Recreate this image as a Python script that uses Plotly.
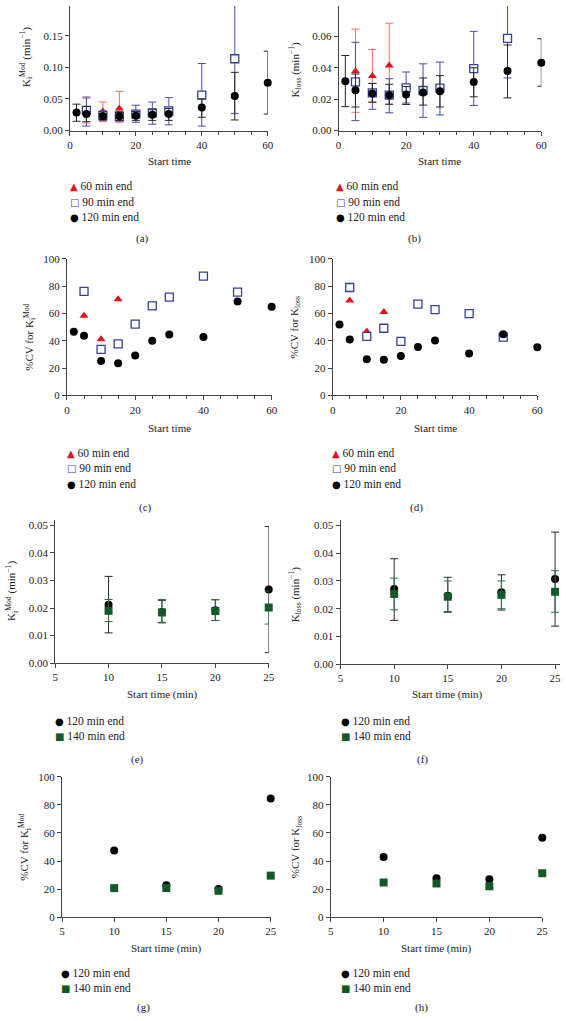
import plotly.graph_objects as go

W, H = 566, 1021
SERIF = "Liberation Serif, Times New Roman, serif"

# ---------------- data ----------------
# (a) K_i^Mod (min^-1) vs start time
a_x60 = [5, 10, 15]
a_y60 = [0.031, 0.030, 0.035]
a_hi60 = [0.051, 0.045, 0.062]
a_lo60 = [0.012, 0.014, 0.013]

a_x90 = [5, 10, 15, 20, 25, 30, 40, 50]
a_y90 = [0.032, 0.024, 0.022, 0.026, 0.028, 0.031, 0.056, 0.1135]
a_hi90 = [0.053, 0.031, 0.030, 0.040, 0.045, 0.052, 0.106, 0.215]
a_lo90 = [0.007, 0.016, 0.015, 0.013, 0.010, 0.009, 0.007, 0.027]

a_x120 = [2, 5, 10, 15, 20, 25, 30, 40, 50, 60]
a_y120 = [0.0285, 0.026, 0.023, 0.0224, 0.0234, 0.025, 0.026, 0.0365, 0.0547, 0.0755]
a_hi120 = [0.0417, 0.038, 0.027, 0.029, 0.030, 0.033, 0.035, 0.050, 0.092, 0.1255]
a_lo120 = [0.0146, 0.014, 0.017, 0.016, 0.016, 0.016, 0.016, 0.021, 0.0167, 0.026]

# (b) K_loss (min^-1) vs start time
b_x60 = [5, 10, 15]
b_y60 = [0.0377, 0.0347, 0.0415]
b_hi60 = [0.0646, 0.0516, 0.0684]
b_lo60 = [0.0116, 0.0183, 0.0166]

b_x90 = [5, 10, 15, 20, 25, 30, 40, 50]
b_y90 = [0.031, 0.024, 0.0225, 0.0272, 0.0255, 0.027, 0.0394, 0.0587]
b_hi90 = [0.0562, 0.030, 0.033, 0.0373, 0.0425, 0.0436, 0.0632, 0.085]
b_lo90 = [0.0063, 0.0135, 0.0113, 0.0175, 0.0084, 0.0099, 0.016, 0.0335]

b_x120 = [2, 5, 10, 15, 20, 25, 30, 40, 50, 60]
b_y120 = [0.0314, 0.0257, 0.0236, 0.0225, 0.023, 0.0242, 0.025, 0.031, 0.0379, 0.0432]
b_hi120 = [0.0478, 0.036, 0.030, 0.0295, 0.028, 0.0335, 0.035, 0.040, 0.0545, 0.0585]
b_lo120 = [0.0152, 0.015, 0.018, 0.0168, 0.0166, 0.0162, 0.015, 0.0215, 0.0208, 0.0282]

# (c) %CV for K_i^Mod
c_x60 = [5, 10, 15]
c_y60 = [58.4, 41.1, 70.4]
c_x90 = [5, 10, 15, 20, 25, 30, 40, 50]
c_y90 = [76.2, 33.7, 37.7, 52.2, 65.6, 72.1, 87.5, 75.7]
c_x120 = [2, 5, 10, 15, 20, 25, 30, 40, 50, 60]
c_y120 = [46.6, 43.8, 25.2, 23.6, 29.3, 40.1, 44.7, 42.8, 68.8, 64.9]

# (d) %CV for K_loss
d_x60 = [5, 10, 15]
d_y60 = [69.5, 46.8, 61.2]
d_x90 = [5, 10, 15, 20, 25, 30, 40, 50]
d_y90 = [79.1, 43.2, 49.2, 39.6, 66.9, 62.8, 60.0, 42.7]
d_x120 = [2, 5, 10, 15, 20, 25, 30, 40, 50, 60]
d_y120 = [52.0, 41.0, 26.4, 26.1, 28.8, 35.5, 40.3, 30.7, 44.8, 35.3]

# (e)-(h): start time (min)
t_x = [10, 15, 20, 25]

e_y120 = [0.0212, 0.0186, 0.0192, 0.0267]
e_hi120 = [0.0315, 0.0228, 0.0230, 0.0496]
e_lo120 = [0.0110, 0.0148, 0.0155, 0.0038]
e_y140 = [0.0190, 0.0184, 0.0189, 0.0202]
e_hi140 = [0.0231, 0.0231, 0.0231, 0.0262]
e_lo140 = [0.0151, 0.0146, 0.0155, 0.0142]

f_y120 = [0.0271, 0.0247, 0.0259, 0.0307]
f_hi120 = [0.0380, 0.0313, 0.0322, 0.0476]
f_lo120 = [0.0158, 0.0187, 0.0195, 0.0137]
f_y140 = [0.0253, 0.0243, 0.0250, 0.0261]
f_hi140 = [0.0310, 0.0300, 0.0300, 0.0337]
f_lo140 = [0.0196, 0.0190, 0.0200, 0.0187]

g_y120 = [47.5, 22.8, 20.0, 84.5]
g_y140 = [20.7, 20.7, 18.8, 29.6]

h_y120 = [42.8, 27.8, 27.1, 56.5]
h_y140 = [24.7, 24.0, 22.0, 31.3]

# ---------------- styles ----------------
RED = "rgb(225,20,30)"
RED_ERR = "rgb(240,110,110)"
BLUE = "rgb(55,65,150)"
BLUE_ERR = "rgb(70,80,160)"
BLACK = "rgb(0,0,0)"
BLACK_ERR = "rgb(40,40,40)"
GREEN = "rgb(20,90,40)"
GREEN_ERR = "rgb(45,115,65)"

M60 = dict(symbol="triangle-up", size=8, color=RED)
M90 = dict(symbol="square", size=8, color="white", line=dict(color=BLUE, width=1.3))
M120 = dict(symbol="circle", size=8, color=BLACK)
M140 = dict(symbol="square", size=8, color=GREEN)


def errs(y, hi, lo, color):
    return dict(type="data", symmetric=False,
                array=[h - v for h, v in zip(hi, y)],
                arrayminus=[v - l for v, l in zip(y, lo)],
                color=color, thickness=1, width=4)


fig = go.Figure()


def add(n, x, y, name, marker, err=None):
    kw = {}
    if err is not None:
        kw["error_y"] = err
    fig.add_trace(go.Scatter(
        x=x, y=y, name=name, mode="markers", marker=marker, cliponaxis=False,
        showlegend=False,
        xaxis="x" if n == 1 else f"x{n}", yaxis="y" if n == 1 else f"y{n}", **kw))


# (a)
add(1, a_x60, a_y60, "60 min end", M60, errs(a_y60, a_hi60, a_lo60, RED_ERR))
add(1, a_x90, a_y90, "90 min end", M90, errs(a_y90, a_hi90, a_lo90, BLUE_ERR))
add(1, a_x120, a_y120, "120 min end", M120, errs(a_y120, a_hi120, a_lo120, BLACK_ERR))
# (b)
add(2, b_x60, b_y60, "60 min end", M60, errs(b_y60, b_hi60, b_lo60, RED_ERR))
add(2, b_x90, b_y90, "90 min end", M90, errs(b_y90, b_hi90, b_lo90, BLUE_ERR))
add(2, b_x120, b_y120, "120 min end", M120, errs(b_y120, b_hi120, b_lo120, BLACK_ERR))
# (c)
add(3, c_x60, c_y60, "60 min end", M60)
add(3, c_x90, c_y90, "90 min end", M90)
add(3, c_x120, c_y120, "120 min end", M120)
# (d)
add(4, d_x60, d_y60, "60 min end", M60)
add(4, d_x90, d_y90, "90 min end", M90)
add(4, d_x120, d_y120, "120 min end", M120)
# (e)
add(5, t_x, e_y120, "120 min end", M120, errs(e_y120, e_hi120, e_lo120, BLACK_ERR))
add(5, t_x, e_y140, "140 min end", M140, errs(e_y140, e_hi140, e_lo140, GREEN_ERR))
# (f)
add(6, t_x, f_y120, "120 min end", M120, errs(f_y120, f_hi120, f_lo120, BLACK_ERR))
add(6, t_x, f_y140, "140 min end", M140, errs(f_y140, f_hi140, f_lo140, GREEN_ERR))
# (g)
add(7, t_x, g_y120, "120 min end", M120)
add(7, t_x, g_y140, "140 min end", M140)
# (h)
add(8, t_x, h_y120, "120 min end", M120)
add(8, t_x, h_y140, "140 min end", M140)


def dx(p0, p1):
    return [p0 / W, p1 / W]


def dy(top, bot):
    return [1 - bot / H, 1 - top / H]


AX = dict(showline=True, linecolor="#444", linewidth=1, ticks="outside", ticklen=4,
          tickcolor="#444", tickwidth=1, showgrid=False, zeroline=False,
          ticklabeloverflow="allow",
          tickfont=dict(family=SERIF, size=11, color="#222"), fixedrange=True)

# panel geometry: (x0px, x1px, ytop px, ybot px, xrange, yrange, ydtick, yfmt, xdtick, xminor)
panels = [
    (68, 269, -2, 126, [0, 60], [0, 0.2], 0.05, ".2f", 20, True),
    (341, 547, -1, 126, [0, 60], [0, 0.08], 0.02, ".2f", 20, True),
    (65, 273, 256, 394, [0, 60], [0, 100], 20, "d", 20, True),
    (335, 543, 256, 394, [0, 60], [0, 100], 20, "d", 20, True),
    (53, 270, 520, 665, [5, 25], [0, 0.052], 0.01, ".2f", 5, False),
    (343, 566, 520, 666, [5, 25.46], [0, 0.052], 0.01, ".2f", 5, False),
    (60, 272, 780, 922, [5, 25], [0, 100], 20, "d", 5, False),
    (333, 548, 780, 922, [5, 25], [0, 100], 20, "d", 5, False),
]

layout = dict(width=W, height=H, margin=dict(l=0, r=0, t=0, b=0),
              paper_bgcolor="white", plot_bgcolor="white", showlegend=False,
              font=dict(family=SERIF, size=11, color="#222"))

for i, (x0, x1, yt, yb, xr, yr, ydt, yfmt, xdt, xminor) in enumerate(panels, start=1):
    sx = "" if i == 1 else str(i)
    xa = dict(AX, domain=dx(x0, x1), range=xr, dtick=xdt, tick0=0 if xr[0] == 0 else 5,
              anchor="y" + sx)
    if xminor:
        xa["minor"] = dict(dtick=5, ticks="outside", ticklen=3, tickcolor="#444")
    ya = dict(AX, domain=[max(0.0, v) for v in [1 - yb / H, min(1.0, 1 - yt / H)]],
              range=yr, dtick=ydt, tick0=0, tickformat=yfmt, anchor="x" + sx)
    if yt < 0:
        # top of the panel lies just above the page edge: trim the range to the visible part
        frac = yb / (yb - yt)
        ya["range"] = [yr[0], yr[0] + (yr[1] - yr[0]) * frac]
        ya["domain"] = [1 - yb / H, 1.0]
    layout["xaxis" + sx] = xa
    layout["yaxis" + sx] = ya

fig.update_layout(**layout)

KI = "K<sub>i</sub><sup>Mod</sup>"
KL = "K<sub>loss</sub>"
MIN = " (min<sup>−1</sup>)"

ann = []


def text(s, xp, yp, angle=0, size=11, xanchor="center"):
    ann.append(dict(text=s, x=xp / W, y=1 - yp / H, xref="paper", yref="paper",
                    showarrow=False, textangle=angle, xanchor=xanchor, yanchor="middle",
                    font=dict(family=SERIF, size=size, color="#222")))


# y titles
text(KI + MIN, 24, 52, -90)
text(KL + MIN, 297, 64, -90)
text("%CV for " + KI, 27, 335, -90)
text("%CV for " + KL, 297, 325, -90)
text(KI + MIN, 9, 592, -90)
text(KL + MIN, 297, 595, -90)
text("%CV for " + KI, 22, 851, -90)
text("%CV for " + KL, 298, 851, -90)
# x titles
text("Start time", 169, 157)
text("Start time", 444, 157)
text("Start time", 169, 427)
text("Start time", 439, 427)
text("Start time (min)", 162, 697)
text("Start time (min)", 452, 697)
text("Start time (min)", 166, 954)
text("Start time (min)", 441, 954)
# panel labels
for lab, xp, yp in [("(a)", 142, 235), ("(b)", 418, 235), ("(c)", 145, 507), ("(d)", 420, 507),
                    ("(e)", 137, 762), ("(f)", 426, 762), ("(g)", 143, 1013), ("(h)", 425, 1013)]:
    text(lab, xp, yp)

# legends as text keys (glyph + label)
GLYPH = "font-family:DejaVu Sans;font-size:10px;color:{}"
LABEL = "font-family:Liberation Serif;font-size:11.5px;color:#222"
KEY60 = ("▲", RED, "60 min end")
KEY90 = ("□", BLUE, "90 min end")
KEY120 = ("●", BLACK, "120 min end")
KEY140 = ("■", GREEN, "140 min end")

legends = [
    (70, [182, 198, 214], [KEY60, KEY90, KEY120]),
    (340, [182, 198, 214], [KEY60, KEY90, KEY120]),
    (67, [452, 468, 484], [KEY60, KEY90, KEY120]),
    (336, [452, 468, 484], [KEY60, KEY90, KEY120]),
    (55, [723, 739], [KEY120, KEY140]),
    (345, [723, 739], [KEY120, KEY140]),
    (61, [978, 994], [KEY120, KEY140]),
    (345, [978, 994], [KEY120, KEY140]),
]
for mx, rows, keys in legends:
    for ry, (g, col, lab) in zip(rows, keys):
        text(f"<span style='{GLYPH.format(col)}'>{g}</span>"
             f"<span style='{LABEL}'> {lab}</span>", mx - 4, ry, xanchor="left")

fig.update_layout(annotations=ann)
fig.write_html("out.html",
               config={"displayModeBar": False},
               post_script="document.body.style.margin='0px';"
                           "document.body.style.overflow='hidden';")
